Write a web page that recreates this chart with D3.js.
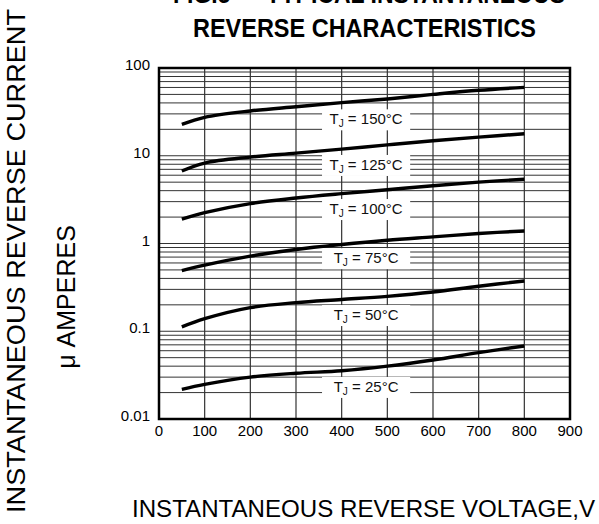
<!DOCTYPE html>
<html>
<head>
<meta charset="utf-8">
<script src="https://cdn.jsdelivr.net/npm/d3@7"></script>
<style>
  body { margin: 0; background: #fff; }
  svg { display: block; font-family: "Liberation Sans", Arial, sans-serif; }
</style>
</head>
<body>
<div id="chart"></div>
<script>
// reverse voltage points (V)
var voltages = [50, 100, 200, 300, 400, 500, 600, 700, 800];

// junction temperatures and reverse current (uA) per curve
var temps = ["25", "50", "75", "100", "125", "150"];
var i25 = [0.0218, 0.0248, 0.0300, 0.0332, 0.0355, 0.0400, 0.0470, 0.0570, 0.0680];
var i50 = [0.112, 0.139, 0.186, 0.212, 0.230, 0.250, 0.280, 0.326, 0.374];
var i75 = [0.49, 0.566, 0.717, 0.855, 0.975, 1.09, 1.19, 1.30, 1.39];
var i100 = [1.9, 2.25, 2.85, 3.3, 3.7, 4.1, 4.55, 5.0, 5.4];
var i125 = [6.7, 8.26, 9.66, 10.7, 11.9, 13.3, 14.8, 16.3, 17.8];
var i150 = [22.8, 27.4, 32.4, 36.2, 40.3, 44.4, 50.0, 55.7, 60.2];

// where each curve's label sits (current, uA) and the voltage span of its box
var labelLevels = [0.0232, 0.153, 0.68, 2.47, 7.85, 26];
var labelSpan = [357, 550];

var xTicks = [0, 100, 200, 300, 400, 500, 600, 700, 800, 900];
var yTicks = [100, 10, 1, 0.1, 0.01];
var yTickText = ["100", "10", "1", "0.1", "0.01"];

var width = 599,
  height = 524;

var svg = d3.select("#chart")
  .append("svg")
  .attr("width", width)
  .attr("height", height);

var x = d3.scaleLinear().domain([0, 900]).range([159, 570]);
var y = d3.scaleLog().domain([0.01, 100]).range([419, 68]);

// minor horizontal grid: 1..9 in every decade
var minor = [];
[0.01, 0.1, 1, 10].forEach(function(dec) {
  for (var k = 1; k <= 9; k++) minor.push(dec * k);
});

var grid = svg.append("g").attr("class", "grid");

grid.selectAll("line.h")
  .data(minor)
  .enter().append("line")
  .attr("class", "h")
  .attr("x1", x(0)).attr("x2", x(900))
  .attr("y1", function(d) { return y(d); })
  .attr("y2", function(d) { return y(d); })
  .style("stroke", "#333")
  .style("stroke-width", 1);

grid.selectAll("line.v")
  .data(xTicks)
  .enter().append("line")
  .attr("class", "v")
  .attr("x1", function(d) { return x(d); })
  .attr("x2", function(d) { return x(d); })
  .attr("y1", y(100)).attr("y2", y(0.01))
  .style("stroke", "#333")
  .style("stroke-width", 1.2);

// curve labels with white boxes
var series = [i25, i50, i75, i100, i125, i150];

var labels = svg.append("g").attr("class", "labels")
  .selectAll("g")
  .data(temps)
  .enter().append("g");

labels.append("rect")
  .attr("x", x(labelSpan[0]))
  .attr("width", x(labelSpan[1]) - x(labelSpan[0]))
  .attr("y", function(d, i) { return y(labelLevels[i]) - 10; })
  .attr("height", 21)
  .style("fill", "#fff");

var lt = labels.append("text")
  .attr("x", (x(labelSpan[0]) + x(labelSpan[1])) / 2)
  .attr("y", function(d, i) { return y(labelLevels[i]) + 5; })
  .attr("text-anchor", "middle")
  .style("font-size", "15px")
  .style("fill", "#111");
lt.append("tspan").text("T");
lt.append("tspan").attr("dy", 3).style("font-size", "10px").text("J");
lt.append("tspan").attr("dy", -3).text(function(d) { return " = " + d + "\u00B0C"; });

// plot frame
svg.append("rect")
  .attr("x", x(0)).attr("y", y(100))
  .attr("width", x(900) - x(0))
  .attr("height", y(0.01) - y(100))
  .style("fill", "none")
  .style("stroke", "#000")
  .style("stroke-width", 2.5);

// curves
var line = d3.line()
  .x(function(d) { return x(d[0]); })
  .y(function(d) { return y(d[1]); })
  .curve(d3.curveCatmullRom.alpha(0.5));

svg.append("g").attr("class", "curves")
  .selectAll("path")
  .data(series)
  .enter().append("path")
  .attr("d", function(s) {
    return line(voltages.map(function(v, i) { return [v, s[i]]; }));
  })
  .style("fill", "none")
  .style("stroke", "#000")
  .style("stroke-width", 3.4)
  .style("stroke-linecap", "butt");

// tick labels
svg.append("g").selectAll("text")
  .data(yTicks)
  .enter().append("text")
  .attr("x", 150)
  .attr("y", function(d) { return y(d) + 2; })
  .attr("text-anchor", "end")
  .style("font-size", "15px")
  .text(function(d, i) { return yTickText[i]; });

svg.append("g").selectAll("text")
  .data(xTicks)
  .enter().append("text")
  .attr("x", function(d) { return x(d); })
  .attr("y", 436)
  .attr("text-anchor", "middle")
  .style("font-size", "15px")
  .text(function(d) { return d; });

// titles
svg.append("text")
  .attr("x", 369).attr("y", 3)
  .attr("text-anchor", "middle")
  .attr("textLength", 392)
  .attr("lengthAdjust", "spacingAndGlyphs")
  .style("font-size", "25px")
  .style("font-weight", "bold")
  .text("FIG.5 \u2014 TYPICAL INSTANTANEOUS");

svg.append("text")
  .attr("x", 364.5).attr("y", 37)
  .attr("text-anchor", "middle")
  .attr("textLength", 343)
  .attr("lengthAdjust", "spacingAndGlyphs")
  .style("font-size", "25px")
  .style("font-weight", "bold")
  .text("REVERSE CHARACTERISTICS");

svg.append("text")
  .attr("x", 363.5).attr("y", 517)
  .attr("text-anchor", "middle")
  .attr("textLength", 463)
  .attr("lengthAdjust", "spacingAndGlyphs")
  .style("font-size", "23px")
  .text("INSTANTANEOUS REVERSE VOLTAGE,V");

svg.append("text")
  .attr("transform", "translate(25,261) rotate(-90)")
  .attr("text-anchor", "middle")
  .attr("textLength", 504)
  .attr("lengthAdjust", "spacingAndGlyphs")
  .style("font-size", "26px")
  .text("INSTANTANEOUS REVERSE CURRENT");

svg.append("text")
  .attr("transform", "translate(75,297) rotate(-90)")
  .attr("text-anchor", "middle")
  .style("font-size", "25px")
  .text("\u03BC AMPERES");
</script>
</body>
</html>
